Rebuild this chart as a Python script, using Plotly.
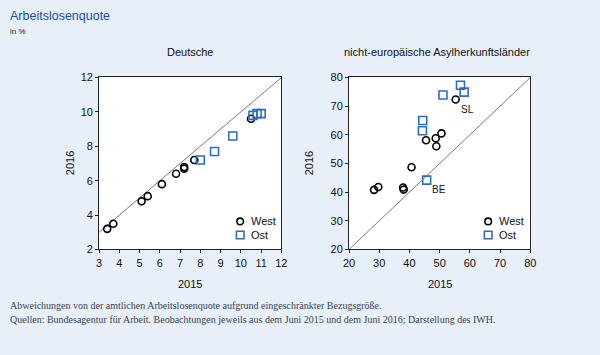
import plotly.graph_objects as go

# ---- data ----
de_west_2015 = [3.4, 3.7, 5.1, 5.4, 6.1, 6.8, 7.2, 7.2, 7.7, 10.5]
de_west_2016 = [3.2, 3.5, 4.8, 5.1, 5.8, 6.4, 6.7, 6.8, 7.2, 9.6]
de_ost_2015 = [8.0, 8.7, 9.6, 10.6, 10.8, 11.0]
de_ost_2016 = [7.2, 7.7, 8.6, 9.8, 9.9, 9.9]

as_west_2015 = [28.3, 29.7, 37.9, 38.1, 40.7, 45.5, 48.7, 48.9, 50.6, 55.3]
as_west_2016 = [40.8, 41.8, 41.6, 40.9, 48.7, 58.1, 58.8, 56.0, 60.5, 72.3]
as_ost_2015 = [45.7, 44.4, 44.3, 51.1, 56.9, 58.1]
as_ost_2016 = [44.2, 65.0, 61.4, 73.9, 77.3, 74.9]

labels_text = ["SL", "BE"]
labels_x = [55.3, 45.7]
labels_y = [72.3, 44.2]

legend_names = ["West", "Ost"]

left_range = [3, 12]
left_yrange = [2, 12]
right_range = [20, 80]

BG = "#E7EFF8"
BLUE = "#2F6CBF"
W, H = 600, 355
FONT = "Liberation Sans, Arial"


def px_x(p):
    return p / W


def px_y(p):
    return 1 - p / H


fig = go.Figure()

circle = dict(symbol="circle-open", size=7, color="black", line=dict(width=1.6, color="black"))
square = dict(symbol="square-open", size=8, color=BLUE, line=dict(width=1.6, color=BLUE))

fig.add_trace(go.Scatter(x=de_west_2015, y=de_west_2016, mode="markers", marker=circle,
                         name=legend_names[0], xaxis="x", yaxis="y"))
fig.add_trace(go.Scatter(x=de_ost_2015, y=de_ost_2016, mode="markers", marker=square,
                         name=legend_names[1], xaxis="x", yaxis="y"))
fig.add_trace(go.Scatter(x=as_west_2015, y=as_west_2016, mode="markers", marker=circle,
                         name=legend_names[0], xaxis="x2", yaxis="y2"))
fig.add_trace(go.Scatter(x=as_ost_2015, y=as_ost_2016, mode="markers", marker=square,
                         name=legend_names[1], xaxis="x2", yaxis="y2"))

# 45-degree reference lines
fig.add_shape(type="line", xref="x", yref="y", x0=left_range[0], y0=left_range[0],
              x1=left_range[1], y1=left_range[1], line=dict(color="#777777", width=1), layer="below")
fig.add_shape(type="line", xref="x2", yref="y2", x0=right_range[0], y0=right_range[0],
              x1=right_range[1], y1=right_range[1], line=dict(color="#777777", width=1), layer="below")

tickfont = dict(family=FONT, size=11, color="#111111")
axis_common = dict(showgrid=False, zeroline=False, showline=True, linecolor="#222222", linewidth=1,
                   mirror=True, ticks="outside", ticklen=3, tickcolor="#222222", tickfont=tickfont)

ytop, ybot = px_y(74), px_y(252)

fig.update_layout(
    width=W, height=H, margin=dict(l=0, r=0, t=0, b=0),
    paper_bgcolor=BG, plot_bgcolor="white", showlegend=False,
    xaxis=dict(domain=[px_x(95), px_x(281)], range=left_range, dtick=1, anchor="y", **axis_common),
    yaxis=dict(domain=[ybot, ytop], range=left_yrange, dtick=2, anchor="x", **axis_common),
    xaxis2=dict(domain=[px_x(350), px_x(535)], range=right_range, dtick=10, anchor="y2", **axis_common),
    yaxis2=dict(domain=[ybot, ytop], range=right_range, dtick=10, anchor="x2", **axis_common),
)

# manual legends (keys as paper-anchored pixel shapes)
for lx in (239, 492):
    for i, (name, ly) in enumerate(zip(legend_names, (223, 237))):
        if i == 0:
            fig.add_shape(type="circle", xref="paper", yref="paper", xsizemode="pixel", ysizemode="pixel",
                          xanchor=px_x(lx), yanchor=px_y(ly), x0=-3.3, x1=3.3, y0=-3.3, y1=3.3,
                          line=dict(color="black", width=1.6))
        else:
            fig.add_shape(type="rect", xref="paper", yref="paper", xsizemode="pixel", ysizemode="pixel",
                          xanchor=px_x(lx), yanchor=px_y(ly), x0=-3.8, x1=3.8, y0=-3.8, y1=3.8,
                          line=dict(color=BLUE, width=1.6))

ann = []
for lx in (239, 492):
    for name, ly in zip(legend_names, (223, 237)):
        ann.append(dict(text=name, x=px_x(lx + 9), y=px_y(ly), xref="paper", yref="paper",
                        xanchor="left", yanchor="middle", showarrow=False,
                        font=dict(family=FONT, size=11, color="#111111")))

title_font = dict(family=FONT, size=11, color="#111111")
ann.append(dict(text="Arbeitslosenquote", x=px_x(2), y=px_y(10), xref="paper", yref="paper",
                xanchor="left", yanchor="middle", showarrow=False,
                font=dict(family=FONT, size=12.5, color="#1C4EA0")))
ann.append(dict(text="in %", x=px_x(2), y=px_y(26), xref="paper", yref="paper",
                xanchor="left", yanchor="middle", showarrow=False,
                font=dict(family=FONT, size=8, color="#222222")))
ann.append(dict(text="Deutsche", x=px_x(188), y=px_y(48), xref="paper", yref="paper",
                xanchor="center", yanchor="middle", showarrow=False, font=title_font))
ann.append(dict(text="nicht-europäische Asylherkunftsländer", x=px_x(440), y=px_y(48), xref="paper",
                yref="paper", xanchor="center", yanchor="middle", showarrow=False, font=title_font))
axtitle = dict(family=FONT, size=11, color="#111111")
ann.append(dict(text="2015", x=px_x(188), y=px_y(288), xref="paper", yref="paper",
                xanchor="center", yanchor="middle", showarrow=False, font=axtitle))
ann.append(dict(text="2015", x=px_x(443), y=px_y(288), xref="paper", yref="paper",
                xanchor="center", yanchor="middle", showarrow=False, font=axtitle))
ann.append(dict(text="2016", x=px_x(66), y=px_y(163), xref="paper", yref="paper",
                xanchor="center", yanchor="middle", showarrow=False, font=axtitle, textangle=-90))
ann.append(dict(text="2016", x=px_x(310), y=px_y(163), xref="paper", yref="paper",
                xanchor="center", yanchor="middle", showarrow=False, font=axtitle, textangle=-90))
for t, xv, yv in zip(labels_text, labels_x, labels_y):
    ann.append(dict(text=t, x=xv, y=yv, xref="x2", yref="y2", xanchor="left", yanchor="top",
                    xshift=3, yshift=-2, showarrow=False,
                    font=dict(family=FONT, size=10, color="#111111")))
foot = dict(family="Liberation Serif, DejaVu Serif", size=10, color="#3A4452")
ann.append(dict(text="Abweichungen von der amtlichen Arbeitslosenquote aufgrund eingeschränkter Bezugsgröße.",
                x=px_x(2), y=px_y(310), xref="paper", yref="paper", xanchor="left", yanchor="middle",
                showarrow=False, font=foot))
ann.append(dict(text="Quellen: Bundesagentur für Arbeit. Beobachtungen jeweils aus dem Juni 2015 und dem Juni 2016; Darstellung des IWH.",
                x=px_x(2), y=px_y(324), xref="paper", yref="paper", xanchor="left", yanchor="middle",
                showarrow=False, font=foot))
fig.update_layout(annotations=ann)

fig.write_html("out.html", config={"displayModeBar": False},
               post_script="document.body.style.margin='0';document.body.style.padding='0';")
